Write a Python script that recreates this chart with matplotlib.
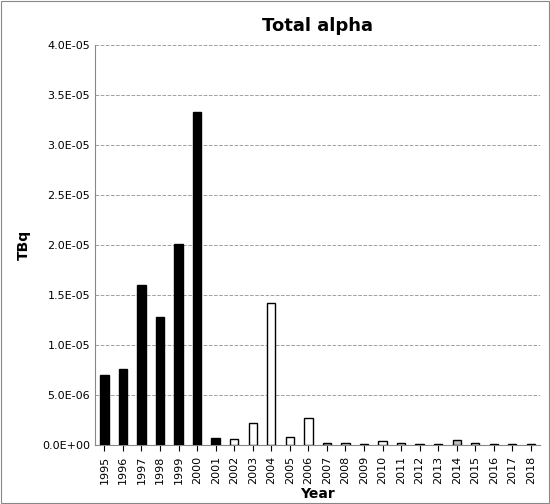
import matplotlib
matplotlib.use("Agg")
import matplotlib.pyplot as plt
from matplotlib.ticker import FuncFormatter

years = [str(y) for y in range(1995, 2019)]
values = [7.0e-6, 7.6e-6, 1.6e-5, 1.28e-5, 2.01e-5, 3.33e-5, 7.5e-7, 5.7e-7, 2.2e-6, 1.42e-5,
          7.7e-7, 2.7e-6, 1.7e-7, 2.0e-7, 1.0e-7, 4.5e-7, 2.0e-7, 1.5e-7, 1.5e-7, 5.0e-7,
          2.0e-7, 7e-8, 7e-8, 7e-8]
colors = ['black'] * 7 + ['white'] * 17
colors[12] = '#c0c0c0'
colors[19] = '#c0c0c0'

fig = plt.figure(figsize=(5.5, 5.04), dpi=100)
fig.patches.append(plt.Rectangle((0.002, 0.002), 0.996, 0.996, transform=fig.transFigure,
                                 fill=False, edgecolor='#888888', linewidth=0.8))
ax = fig.add_axes([0.173, 0.117, 0.809, 0.794])
ax.bar(range(len(years)), values, width=0.45, color=colors, edgecolor='black', linewidth=1, zorder=3)
ax.set_xlim(-0.5, len(years) - 0.5)
ax.set_ylim(0, 4e-5)
ax.set_yticks([i * 5e-6 for i in range(9)])
ax.yaxis.set_major_formatter(FuncFormatter(lambda v, p: f"{v:.1E}" if v else "0.0E+00"))
ax.grid(axis='y', color='#a0a0a0', linestyle='--', linewidth=0.7, zorder=0)
ax.set_xticks(range(len(years)))
ax.set_xticklabels(years, rotation=90, fontsize=8)
ax.tick_params(axis='y', labelsize=8, length=0)
ax.tick_params(axis='x', length=4, direction='out')
for s in ['top', 'right']:
    ax.spines[s].set_visible(False)
ax.spines['left'].set_color('#888888')
ax.spines['bottom'].set_color('#888888')
ax.set_title('Total alpha', fontsize=13, fontweight='bold', pad=10)
ax.set_xlabel('Year', fontsize=10, fontweight='bold', labelpad=2)
ax.set_ylabel('TBq', fontsize=10, fontweight='bold', labelpad=8)
fig.savefig('out.png', dpi=100)
